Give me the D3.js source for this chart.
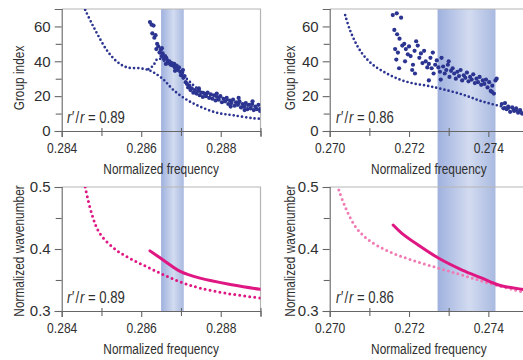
<!DOCTYPE html>
<html>
<head>
<meta charset="utf-8">
<script src="https://cdn.jsdelivr.net/npm/d3@7"></script>
<style>
  body { margin: 0; background: #fff; }
  svg text { font-family: "Liberation Sans", Arial, sans-serif; fill: #2f2f2f; }
</style>
</head>
<body>
<svg id="chart" width="523" height="360"></svg>
<script>
// r'/r = 0.89 : measured group index (scatter) and calculated curves (dotted)
const gi89Scatter = [
  [0.28622,62.5],[0.28626,61],[0.28631,60.5],[0.28628,56],[0.28633,53.5],[0.28636,55],[0.28640,50],
  [0.28638,47],[0.28643,48.5],[0.28646,45],[0.28649,46.5],[0.28651,43],[0.28654,44.5],[0.28657,41.5],
  [0.28660,43],[0.28663,42],[0.28666,40.5],[0.28668,39],[0.28671,40],[0.28674,38],[0.28677,39],
  [0.28680,37.5],[0.28683,38.5],[0.28686,36.5],[0.28689,37.5],[0.28692,35.5],[0.28695,36.5],[0.28698,34],
  [0.28700,32],[0.28703,33.5],[0.28706,30.5],[0.28709,31.5],[0.28712,28],[0.28715,27],[0.28718,25],
  [0.28721,26],[0.28724,23.5],[0.28727,24.5],[0.28731,22],[0.28735,23.5],[0.28739,21.5],[0.28743,23],
  [0.28747,20.5],[0.28751,22],[0.28755,19.5],[0.28759,21.5],[0.28763,20],[0.28767,22],[0.28771,19],
  [0.28775,21],[0.28779,18.5],[0.28783,20.5],[0.28787,17.5],[0.28791,19.5],[0.28795,18],[0.28799,20],
  [0.28803,16.5],[0.28807,18.5],[0.28811,17],[0.28815,19],[0.28819,15.5],[0.28823,17.5],[0.28827,16],
  [0.28831,18],[0.28835,14.5],[0.28839,16.5],[0.28843,15],[0.28847,17],[0.28851,13.5],[0.28855,15.5],
  [0.28859,14],[0.28863,16],[0.28867,12.5],[0.28871,15],[0.28875,13],[0.28879,15.5],[0.28883,12],
  [0.28887,14],[0.28891,12.5],[0.28895,15],[0.28899,11.5],
  [0.28652,47.5],[0.28662,38.5],[0.28685,34.5],[0.28705,35],[0.28745,24.5],[0.28790,21.5],
  [0.28825,14],[0.28860,12],[0.28880,17],[0.28845,19]
];
const gi89Lower = [
  [0.28459,69.5],[0.28475,62],[0.28490,55.5],[0.28513,46.5],[0.28538,40],[0.28564,36.5],[0.28597,36],
  [0.28618,35],[0.28632,33.5],[0.28656,29.5],[0.28681,23.5],[0.28714,18],[0.28748,14],[0.28790,10.5],
  [0.28832,9],[0.28882,7.3],[0.28899,7]
];
const gi89Upper = [
  [0.28618,35.5],[0.28630,37.5],[0.28642,41.5],[0.28660,40],[0.28700,33],[0.28750,23],[0.28800,19],
  [0.28850,15.5],[0.28899,13]
];

// r'/r = 0.86
const gi86Scatter = [
  [0.27159,66.5],[0.27169,67.5],[0.27180,65],[0.27163,58],[0.27170,55.5],[0.27176,53],
  [0.27165,47],[0.27172,45],[0.27168,41],[0.27175,36],[0.27183,49],[0.27188,50],[0.27192,47],
  [0.27197,44],[0.27200,48.5],[0.27204,43],[0.27208,35],[0.27210,38],[0.27214,46],[0.27218,51.5],
  [0.27222,49],[0.27226,42],[0.27230,44.5],[0.27234,39],[0.27238,46],[0.27242,40],[0.27246,36.5],
  [0.27250,38.5],[0.27254,42],[0.27257,36],[0.27262,33],[0.27266,38],[0.27270,40.5],[0.27274,36.5],
  [0.27278,34],[0.27282,42],[0.27286,37],[0.27290,33],[0.27294,35],[0.27298,38],[0.27302,31],
  [0.27306,34.5],[0.27310,36],[0.27314,33],[0.27318,30],[0.27322,34],[0.27326,31.5],[0.27330,35],
  [0.27334,29],[0.27338,32],[0.27342,30.5],[0.27346,33.5],[0.27350,28.5],[0.27354,31],[0.27358,29.5],
  [0.27362,32.5],[0.27366,27.5],[0.27370,30],[0.27374,28],[0.27378,31],[0.27382,26.5],[0.27386,29],
  [0.27390,27],[0.27394,29.5],[0.27398,25],[0.27402,28],[0.27406,23],[0.27410,26],[0.27414,21.5],
  [0.27418,29],[0.27421,30],
  [0.27434,15.5],[0.27438,13],[0.27442,16],[0.27446,12.5],[0.27450,14],[0.27455,11],[0.27460,13.5],
  [0.27465,11.5],[0.27470,13],[0.27475,10.5],[0.27480,12],[0.27485,10],
  [0.27250,29],[0.27260,45],[0.27190,40],[0.27215,33],[0.27300,40],[0.27280,29.5],[0.27409,22.5]
];
const gi86Curve = [
  [0.27039,66.5],[0.27051,58],[0.27068,49.5],[0.27085,43.5],[0.27110,37.8],[0.27144,33],[0.27177,29.5],
  [0.27211,27.3],[0.27245,26],[0.27275,24.5],[0.27334,21],[0.27384,17],[0.27435,14],[0.27485,11],
  [0.27500,10.5]
];

// normalized wavenumber curves
const wn89Dotted = [
  [0.28459,0.5],[0.28475,0.458],[0.28496,0.425],[0.28538,0.398],[0.28580,0.382],[0.28622,0.369],
  [0.28664,0.356],[0.28706,0.345],[0.28748,0.337],[0.28814,0.3285],[0.28899,0.321]
];
const wn89Solid = [
  [0.28622,0.397],[0.28656,0.382],[0.28698,0.364],[0.28748,0.353],[0.28832,0.342],[0.28899,0.335]
];
const wn86Dotted = [
  [0.27023,0.495],[0.27039,0.468],[0.27065,0.436],[0.27098,0.4145],[0.27149,0.396],[0.27208,0.382],
  [0.27275,0.369],[0.27334,0.358],[0.27401,0.345],[0.27485,0.331],[0.27500,0.329]
];
const wn86Solid = [
  [0.27160,0.4387],[0.27182,0.4253],[0.27224,0.406],[0.27275,0.385],[0.27334,0.366],[0.27384,0.353],
  [0.27426,0.342],[0.27485,0.335],[0.27500,0.334]
];

// slow-light windows (shaded bands)
const band89 = [0.2865, 0.28707];
const band86 = [0.27272, 0.27418];

const xTicks89 = [0.284, 0.286, 0.288];
const xMinor89 = [0.285, 0.287, 0.289];
const xTicks86 = [0.270, 0.272, 0.274];
const xMinor86 = [0.271, 0.273, 0.275];
const giTicks = [0, 20, 40, 60];
const giMinor = [10, 30, 50];
const wnTicks = [0.3, 0.4, 0.5];
const wnMinor = [0.35, 0.45];

const svg = d3.select('#chart');
const navy = '#2b3490';
const magenta = '#df1783';
const narrow = 'scale(0.82,1)'; // condensed look

const defs = svg.append('defs');
const grad = defs.append('linearGradient').attr('id', 'bandGrad');
grad.append('stop').attr('offset', '0%').attr('stop-color', '#9fb1de');
grad.append('stop').attr('offset', '55%').attr('stop-color', '#d2dbf0');
grad.append('stop').attr('offset', '100%').attr('stop-color', '#a9b9e0');

const columns = [
  { domain: [0.284, 0.289], range: [61.7, 260.5], band: band89, ticks: xTicks89, minor: xMinor89, ratio: '0.89', yLabX: 19, textX: 67 },
  { domain: [0.270, 0.275], range: [329.7, 528], band: band86, ticks: xTicks86, minor: xMinor86, ratio: '0.86', yLabX: 290, textX: 336 },
];
const rows = [
  { domain: [0, 70], range: [131, 9], ticks: giTicks, minor: giMinor, fmt: d3.format('d'), label: 'Group index', labY: 78, xLabY: 174, ratioY: 123 },
  { domain: [0.3, 0.5], range: [311, 187], ticks: wnTicks, minor: wnMinor, fmt: d3.format('.1f'), label: 'Normalized wavenumber', labY: 251, xLabY: 354, ratioY: 303 },
];

// bands first, behind everything (span both rows of a column)
columns.forEach(c => {
  const x = d3.scaleLinear().domain(c.domain).range(c.range);
  svg.append('rect')
    .attr('x', x(c.band[0])).attr('y', 9)
    .attr('width', x(c.band[1]) - x(c.band[0]))
    .attr('height', 302)
    .attr('fill', 'url(#bandGrad)');
});

function panel(ci, ri, draw) {
  const c = columns[ci], r = rows[ri];
  const x = d3.scaleLinear().domain(c.domain).range(c.range);
  const y = d3.scaleLinear().domain(r.domain).range(r.range);
  const g = svg.append('g');

  // frame top and right
  g.append('path')
    .attr('d', `M${c.range[0]},${r.range[1]}H${c.range[1]}V${r.range[0]}`)
    .attr('fill', 'none').attr('stroke', '#b5b5b5').attr('stroke-width', 1.2);

  const clipId = `clip${ci}${ri}`;
  defs.append('clipPath').attr('id', clipId).append('rect')
    .attr('x', c.range[0]).attr('y', r.range[1])
    .attr('width', c.range[1] - c.range[0]).attr('height', r.range[0] - r.range[1]);
  const plot = g.append('g').attr('clip-path', `url(#${clipId})`);
  draw(plot, x, y);

  // x axis
  const xa = g.append('g').attr('transform', `translate(0,${r.range[0]})`)
    .call(d3.axisBottom(x).tickValues(c.ticks).tickFormat(d3.format('.3f')).tickSizeOuter(0).tickSize(6).tickPadding(5));
  g.append('g').attr('transform', `translate(0,${r.range[0]})`)
    .call(d3.axisBottom(x).tickValues(c.minor).tickFormat('').tickSizeOuter(0).tickSize(5))
    .call(s => s.select('.domain').remove())
    .selectAll('line').attr('y1', -3);
  // y axis
  const ya = g.append('g').attr('transform', `translate(${c.range[0]},0)`)
    .call(d3.axisLeft(y).tickValues(r.ticks).tickFormat(r.fmt).tickSizeOuter(0).tickSize(7).tickPadding(4));
  g.append('g').attr('transform', `translate(${c.range[0]},0)`)
    .call(d3.axisLeft(y).tickValues(r.minor).tickFormat('').tickSizeOuter(0).tickSize(6))
    .call(s => s.select('.domain').remove());

  g.selectAll('.domain, .tick line').attr('stroke', '#666').attr('stroke-width', 1.1);
  xa.selectAll('.tick text').style('font-size', '15.5px').attr('fill', '#2f2f2f').attr('transform', 'scale(0.78,1)');
  ya.selectAll('.tick text').style('font-size', '15px').attr('fill', '#2f2f2f');

  g.append('text')
    .attr('transform', `translate(${(c.range[0] + c.range[1]) / 2},${r.xLabY}) ${narrow}`)
    .attr('text-anchor', 'middle')
    .style('font-size', '14.5px').text('Normalized frequency');
  g.append('text')
    .attr('transform', `translate(${c.yLabX},${r.labY}) rotate(-90) ${narrow}`)
    .attr('text-anchor', 'middle').attr('dy', '0.35em')
    .style('font-size', '14.5px').text(r.label);

  const t = g.append('text')
    .attr('transform', `translate(${c.textX},${r.ratioY}) ${narrow}`)
    .style('font-size', '16px');
  t.append('tspan').style('font-style', 'italic').text('r\u2032');
  t.append('tspan').attr('dx', 2).text('/');
  t.append('tspan').attr('dx', 1).style('font-style', 'italic').text('r');
  t.append('tspan').text(' = ' + c.ratio);
}

function dotted(sel, x, y, data, color, w, gap) {
  sel.append('path').datum(data)
    .attr('d', d3.line().x(d => x(d[0])).y(d => y(d[1])).curve(d3.curveCatmullRom))
    .attr('fill', 'none').attr('stroke', color).attr('stroke-width', w)
    .attr('stroke-linecap', 'round').attr('stroke-dasharray', `0 ${gap}`);
}
function solid(sel, x, y, data, color, w) {
  sel.append('path').datum(data)
    .attr('d', d3.line().x(d => x(d[0])).y(d => y(d[1])).curve(d3.curveCatmullRom))
    .attr('fill', 'none').attr('stroke', color).attr('stroke-width', w)
    .attr('stroke-linecap', 'round');
}
function scatter(sel, x, y, data) {
  sel.selectAll('circle.pt').data(data).join('circle').attr('class', 'pt')
    .attr('cx', d => x(d[0])).attr('cy', d => y(d[1])).attr('r', 2.1)
    .attr('fill', navy);
}

panel(0, 0, (p, x, y) => {
  dotted(p, x, y, gi89Lower, navy, 2.7, 4.2);
  dotted(p, x, y, gi89Upper, navy, 2.7, 4.2);
  scatter(p, x, y, gi89Scatter);
});
panel(1, 0, (p, x, y) => {
  dotted(p, x, y, gi86Curve, navy, 2.7, 4.2);
  scatter(p, x, y, gi86Scatter);
});
panel(0, 1, (p, x, y) => {
  dotted(p, x, y, wn89Dotted, magenta, 3, 5);
  solid(p, x, y, wn89Solid, magenta, 3);
});
panel(1, 1, (p, x, y) => {
  dotted(p, x, y, wn86Dotted, '#f07bb4', 3, 5);
  solid(p, x, y, wn86Solid, magenta, 3);
});
</script>
</body>
</html>
